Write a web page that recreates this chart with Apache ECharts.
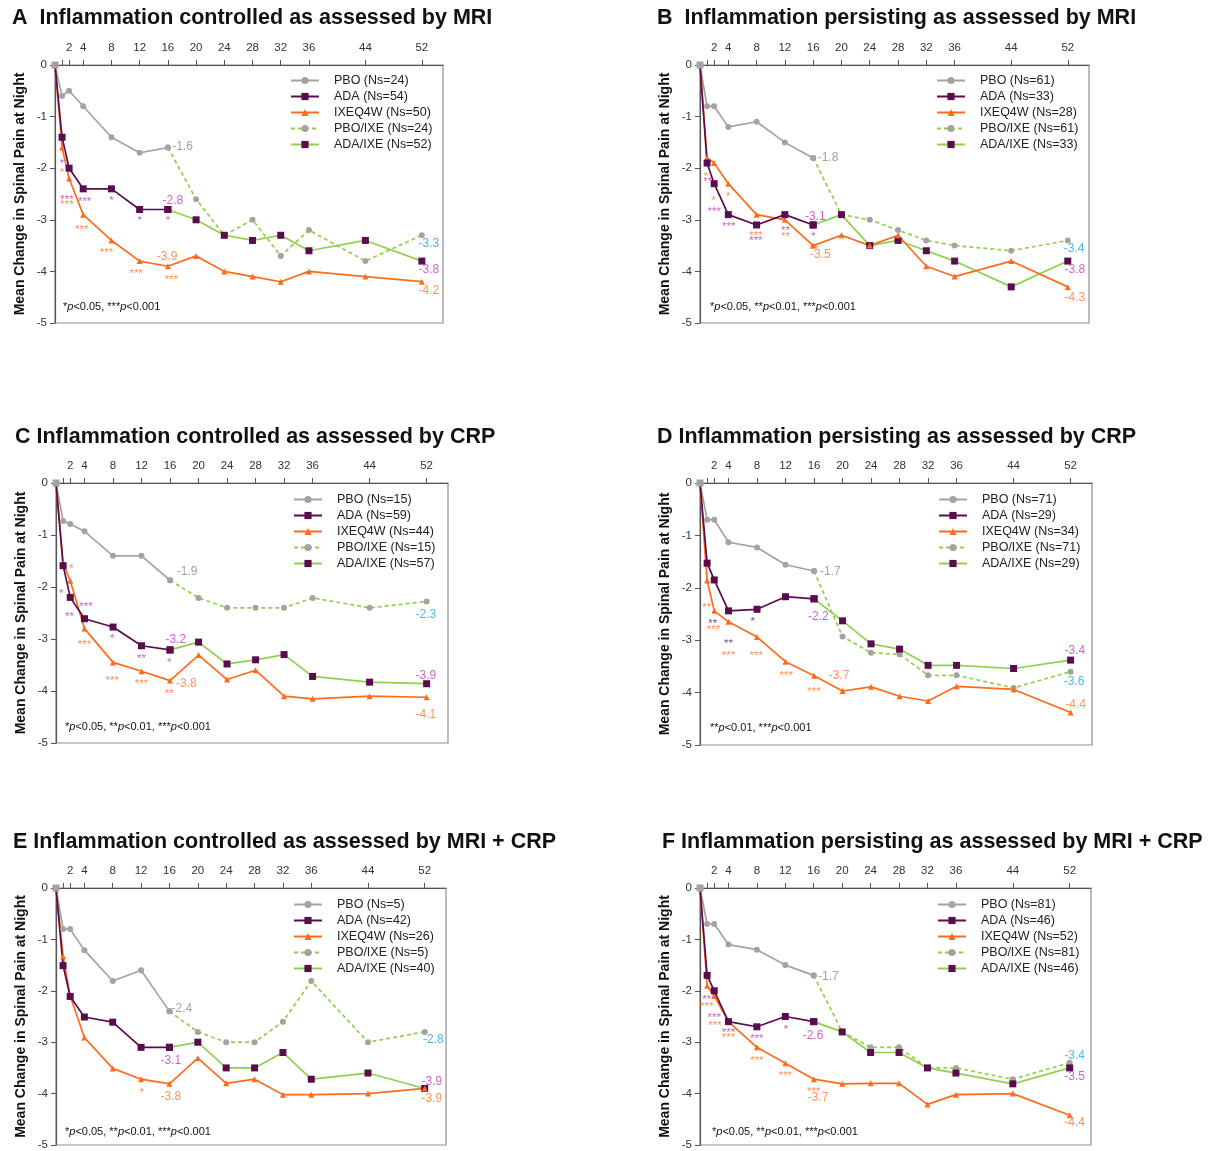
<!DOCTYPE html>
<html>
<head>
<meta charset="utf-8">
<script src="https://cdn.jsdelivr.net/npm/echarts@6/dist/echarts.min.js"></script>
<style>
  html, body { margin: 0; padding: 0; background: #fff; }
  #chart { width: 1213px; height: 1151px; }
</style>
</head>
<body>
<div id="chart"></div>
<script>
// ---------- shared axes ----------
const WEEKS_DB = [0, 1, 2, 4, 8, 12, 16];
const WEEKS_ALL = [0, 1, 2, 4, 8, 12, 16, 20, 24, 28, 32, 36, 44, 52];
const WEEKS_EXT = [16, 20, 24, 28, 32, 36, 44, 52];
const X_TICKS = [1, 2, 4, 8, 12, 16, 20, 24, 28, 32, 36, 44, 52];
const X_LABELS = [2, 4, 8, 12, 16, 20, 24, 28, 32, 36, 44, 52];
const Y_NAME = 'Mean Change in Spinal Pain at Night';

// ---------- A ----------
const TITLE_A = 'A  Inflammation controlled as assessed by MRI';
const NS_A = [24, 54, 50, 24, 52];
const A_PBO = [0, -0.6, -0.5, -0.8, -1.4, -1.7, -1.6];
const A_ADA = [0, -1.4, -2.0, -2.4, -2.4, -2.8, -2.8];
const A_IXE = [0, -1.6, -2.2, -2.9, -3.4, -3.8, -3.9, -3.7, -4.0, -4.1, -4.2, -4.0, -4.1, -4.2];
const A_PBO_IXE = [-1.6, -2.6, -3.3, -3.0, -3.7, -3.2, -3.8, -3.3];
const A_ADA_IXE = [-2.8, -3.0, -3.3, -3.4, -3.3, -3.6, -3.4, -3.8];
const A_LABELS = [[18.1, -1.58, '-1.6', 'pbo'], [16.7, -2.63, '-2.8', 'ada'], [15.9, -3.72, '-3.9', 'ixe'],
  [53.0, -3.47, '-3.3', 'pboIxe'], [53.0, -3.96, '-3.8', 'adaIxe'], [53.0, -4.38, '-4.2', 'ixe']];
const A_STARS = [[1, -1.86, '*', 'ada'], [1.7, -2.55, '***', 'ada'], [4.2, -2.6, '***', 'ada'], [8, -2.58, '*', 'ada'],
  [12, -2.97, '*', 'ada'], [16, -2.97, '*', 'ada'],
  [1, -2.04, '*', 'ixe'], [1.7, -2.66, '***', 'ixe'], [3.8, -3.13, '***', 'ixe'], [7.3, -3.58, '***', 'ixe'],
  [11.5, -3.98, '***', 'ixe'], [16.5, -4.1, '***', 'ixe']];
const NOTE_A = '*{i|p}<0.05, ***{i|p}<0.001';

// ---------- B ----------
const TITLE_B = 'B  Inflammation persisting as assessed by MRI';
const NS_B = [61, 33, 28, 61, 33];
const B_PBO = [0, -0.8, -0.8, -1.2, -1.1, -1.5, -1.8];
const B_ADA = [0, -1.9, -2.3, -2.9, -3.1, -2.9, -3.1];
const B_IXE = [0, -1.8, -1.9, -2.3, -2.9, -3.0, -3.5, -3.3, -3.5, -3.3, -3.9, -4.1, -3.8, -4.3];
const B_PBO_IXE = [-1.8, -2.9, -3.0, -3.2, -3.4, -3.5, -3.6, -3.4];
const B_ADA_IXE = [-3.1, -2.9, -3.5, -3.4, -3.6, -3.8, -4.3, -3.8];
const B_LABELS = [[18.1, -1.8, '-1.8', 'pbo'], [16.3, -2.93, '-3.1', 'ada'], [17, -3.68, '-3.5', 'ixe'],
  [52.9, -3.56, '-3.4', 'pboIxe'], [53.0, -3.97, '-3.8', 'adaIxe'], [53.0, -4.5, '-4.3', 'ixe']];
const B_STARS = [[1.1, -2.21, '**', 'ada'], [2, -2.78, '***', 'ada'], [4.05, -3.08, '***', 'ada'], [7.9, -3.35, '***', 'ada'],
  [12.1, -3.16, '**', 'ada'], [16, -3.28, '*', 'ada'],
  [0.85, -2.1, '*', 'ixe'], [1.9, -2.58, '*', 'ixe'], [4, -2.49, '*', 'ixe'], [7.9, -3.25, '***', 'ixe'],
  [12.1, -3.27, '**', 'ixe'], [16.1, -3.53, '**', 'ixe']];
const NOTE_B = '*{i|p}<0.05, **{i|p}<0.01, ***{i|p}<0.001';

// ---------- C ----------
const TITLE_C = 'C Inflammation controlled as assessed by CRP';
const NS_C = [15, 59, 44, 15, 57];
const C_PBO = [0, -0.73, -0.79, -0.93, -1.4, -1.4, -1.87];
const C_ADA = [0, -1.59, -2.2, -2.61, -2.77, -3.13, -3.21];
const C_IXE = [0, -1.55, -1.88, -2.8, -3.45, -3.62, -3.8, -3.31, -3.78, -3.6, -4.1, -4.15, -4.1, -4.12];
const C_PBO_IXE = [-1.87, -2.21, -2.4, -2.4, -2.4, -2.21, -2.4, -2.28];
const C_ADA_IXE = [-3.21, -3.06, -3.48, -3.4, -3.3, -3.72, -3.83, -3.86];
const C_LABELS = [[18.4, -1.71, '-1.9', 'pbo'], [16.8, -3.01, '-3.2', 'ada'], [18.3, -3.85, '-3.8', 'ixe'],
  [51.9, -2.53, '-2.3', 'pboIxe'], [51.9, -3.71, '-3.9', 'adaIxe'], [51.9, -4.46, '-4.1', 'ixe']];
const C_STARS = [[0.74, -2.07, '*', 'ada'], [1.9, -2.51, '**', 'ada'], [4.2, -2.33, '***', 'ada'], [7.9, -2.94, '*', 'ada'],
  [12, -3.32, '**', 'ada'], [15.9, -3.4, '*', 'ada'],
  [2.14, -1.6, '*', 'ixe'], [4, -3.05, '***', 'ixe'], [7.9, -3.75, '***', 'ixe'], [12, -3.81, '***', 'ixe'],
  [15.9, -4.0, '**', 'ixe']];
const NOTE_C = '*{i|p}<0.05, **{i|p}<0.01, ***{i|p}<0.001';

// ---------- D ----------
const TITLE_D = 'D Inflammation persisting as assessed by CRP';
const NS_D = [71, 29, 34, 71, 29];
const D_PBO = [0, -0.7, -0.7, -1.13, -1.23, -1.56, -1.68];
const D_ADA = [0, -1.53, -1.85, -2.44, -2.41, -2.17, -2.21];
const D_IXE = [0, -1.86, -2.44, -2.65, -2.94, -3.41, -3.68, -3.97, -3.89, -4.07, -4.16, -3.88, -3.94, -4.38];
const D_PBO_IXE = [-1.68, -2.93, -3.24, -3.27, -3.67, -3.67, -3.91, -3.6];
const D_ADA_IXE = [-2.21, -2.63, -3.07, -3.17, -3.48, -3.48, -3.54, -3.38];
const D_LABELS = [[18.3, -1.69, '-1.7', 'pbo'], [16.6, -2.55, '-2.2', 'ada'], [19.5, -3.68, '-3.7', 'ixe'],
  [52.6, -3.2, '-3.4', 'adaIxe'], [52.5, -3.79, '-3.6', 'pboIxe'], [52.7, -4.24, '-4.4', 'ixe']];
const D_STARS = [[1.8, -2.63, '**', 'ada'], [4, -3.01, '**', 'ada'], [7.4, -2.6, '*', 'ada'],
  [0.94, -2.33, '**', 'ixe'], [1.9, -2.75, '***', 'ixe'], [4, -3.24, '***', 'ixe'], [7.9, -3.24, '***', 'ixe'],
  [12.1, -3.62, '***', 'ixe'], [16, -3.93, '***', 'ixe']];
const NOTE_D = '**{i|p}<0.01, ***{i|p}<0.001';

// ---------- E ----------
const TITLE_E = 'E Inflammation controlled as assessed by MRI + CRP';
const NS_E = [5, 42, 26, 5, 40];
const E_PBO = [0, -0.8, -0.8, -1.21, -1.81, -1.6, -2.4];
const E_ADA = [0, -1.51, -2.11, -2.51, -2.61, -3.1, -3.1];
const E_IXE = [0, -1.33, -2.1, -2.91, -3.51, -3.72, -3.81, -3.31, -3.8, -3.72, -4.02, -4.02, -4.0, -3.9];
const E_PBO_IXE = [-2.4, -2.8, -3.0, -3.0, -2.6, -1.81, -3.0, -2.8];
const E_ADA_IXE = [-3.1, -3.0, -3.5, -3.5, -3.2, -3.72, -3.6, -3.9];
const E_LABELS = [[17.75, -2.35, '-2.4', 'pbo'], [16.2, -3.36, '-3.1', 'ada'], [16.2, -4.06, '-3.8', 'ixe'],
  [53.2, -2.95, '-2.8', 'pboIxe'], [53.0, -3.76, '-3.9', 'adaIxe'], [53.0, -4.1, '-3.9', 'ixe']];
const E_STARS = [[12.1, -3.92, '*', 'ixe']];
const NOTE_E = '*{i|p}<0.05, **{i|p}<0.01, ***{i|p}<0.001';

// ---------- F ----------
const TITLE_F = 'F Inflammation persisting as assessed by MRI + CRP';
const NS_F = [81, 46, 52, 81, 46];
const F_PBO = [0, -0.7, -0.7, -1.1, -1.2, -1.5, -1.7];
const F_ADA = [0, -1.7, -2.0, -2.6, -2.7, -2.5, -2.6];
const F_IXE = [0, -1.9, -2.1, -2.6, -3.1, -3.41, -3.72, -3.81, -3.8, -3.8, -4.21, -4.02, -4.0, -4.42];
const F_PBO_IXE = [-1.7, -2.8, -3.1, -3.1, -3.5, -3.5, -3.72, -3.4];
const F_ADA_IXE = [-2.6, -2.8, -3.2, -3.2, -3.5, -3.6, -3.81, -3.5];
const F_LABELS = [[18.05, -1.72, '-1.7', 'pbo'], [15.9, -2.87, '-2.6', 'ada'], [16.6, -4.07, '-3.7', 'ixe'],
  [52.7, -3.26, '-3.4', 'pboIxe'], [52.7, -3.68, '-3.5', 'adaIxe'], [52.7, -4.56, '-4.4', 'ixe']];
const F_STARS = [[0.94, -2.12, '**', 'ada'], [2, -2.46, '***', 'ada'], [4, -2.76, '***', 'ada'], [8, -2.88, '***', 'ada'],
  [12.1, -2.7, '*', 'ada'],
  [0.94, -2.26, '***', 'ixe'], [2.1, -2.62, '***', 'ixe'], [4, -2.86, '***', 'ixe'], [8, -3.31, '***', 'ixe'],
  [12, -3.6, '***', 'ixe'], [16, -3.9, '***', 'ixe']];
const NOTE_F = '*{i|p}<0.05, **{i|p}<0.01, ***{i|p}<0.001';

// ---------- styles ----------
const COL_GRAY = '#a7a29e';
const COL_ADA = '#5a0c4f';
const COL_IXE = '#ff6b1c';
const COL_GREEN = '#8fd04c';
const LABEL_COLOR = { pbo: '#8e8a87', ada: '#c53ab6', ixe: '#ff772b', pboIxe: '#1fa6e0', adaIxe: '#c53ab6' };
const FONT = '"Liberation Sans", Arial, Helvetica, sans-serif';

const PANELS = [
  { title: TITLE_A, ns: NS_A, pbo: A_PBO, ada: A_ADA, ixe: A_IXE, pboIxe: A_PBO_IXE, adaIxe: A_ADA_IXE, labels: A_LABELS, stars: A_STARS, note: NOTE_A },
  { title: TITLE_B, ns: NS_B, pbo: B_PBO, ada: B_ADA, ixe: B_IXE, pboIxe: B_PBO_IXE, adaIxe: B_ADA_IXE, labels: B_LABELS, stars: B_STARS, note: NOTE_B },
  { title: TITLE_C, ns: NS_C, pbo: C_PBO, ada: C_ADA, ixe: C_IXE, pboIxe: C_PBO_IXE, adaIxe: C_ADA_IXE, labels: C_LABELS, stars: C_STARS, note: NOTE_C },
  { title: TITLE_D, ns: NS_D, pbo: D_PBO, ada: D_ADA, ixe: D_IXE, pboIxe: D_PBO_IXE, adaIxe: D_ADA_IXE, labels: D_LABELS, stars: D_STARS, note: NOTE_D },
  { title: TITLE_E, ns: NS_E, pbo: E_PBO, ada: E_ADA, ixe: E_IXE, pboIxe: E_PBO_IXE, adaIxe: E_ADA_IXE, labels: E_LABELS, stars: E_STARS, note: NOTE_E },
  { title: TITLE_F, ns: NS_F, pbo: F_PBO, ada: F_ADA, ixe: F_IXE, pboIxe: F_PBO_IXE, adaIxe: F_ADA_IXE, labels: F_LABELS, stars: F_STARS, note: NOTE_F },
];

// pixel layout of each panel
const LAYOUT = [
  { grid: { left: 55, top: 65, width: 388, height: 258 }, tx: 12, ty: 7, lx: 290, ly: 74, nx: 63, ny: 301, adaStar: '#c040b0' },
  { grid: { left: 700, top: 65, width: 389, height: 258 }, tx: 657, ty: 7, lx: 936, ly: 74, nx: 710, ny: 301, adaStar: '#c040b0' },
  { grid: { left: 56, top: 483, width: 392, height: 260 }, tx: 15, ty: 426, lx: 293, ly: 493, nx: 65, ny: 721, adaStar: '#c040b0' },
  { grid: { left: 700, top: 483, width: 392, height: 262 }, tx: 657, ty: 426, lx: 938, ly: 493, nx: 710, ny: 722, adaStar: '#4d2a62' },
  { grid: { left: 56, top: 888, width: 390, height: 260 }, tx: 13, ty: 831, lx: 293, ly: 898, nx: 65, ny: 1126, adaStar: '#c040b0' },
  { grid: { left: 700, top: 888, width: 391, height: 260 }, tx: 662, ty: 831, lx: 937, ly: 898, nx: 712, ny: 1126, adaStar: '#c040b0' },
];

function pts(weeks, vals) { return weeks.map((w, i) => [w, vals[i]]); }

function lineSeries(i, name, data, color, lineColor, symbol, size, dashed) {
  return {
    type: 'line', name, xAxisIndex: i, yAxisIndex: i, data,
    symbol, symbolSize: size, showSymbol: true, animation: false,
    lineStyle: { color: lineColor, width: 1.7, type: dashed ? [4, 3] : 'solid' },
    itemStyle: { color },
    emphasis: { disabled: true },
  };
}

const option = {
  animation: false,
  backgroundColor: '#fff',
  textStyle: { fontFamily: FONT },
  title: [], grid: [], xAxis: [], yAxis: [], legend: [], series: [], graphic: [],
};

PANELS.forEach((p, i) => {
  const L = LAYOUT[i];
  const names = [`PBO (Ns=${p.ns[0]})`, `ADA (Ns=${p.ns[1]})`, `IXEQ4W (Ns=${p.ns[2]})`,
    `PBO/IXE (Ns=${p.ns[3]})`, `ADA/IXE (Ns=${p.ns[4]})`];

  option.title.push({
    text: p.title, left: L.tx, top: L.ty, padding: 0,
    textStyle: { fontSize: 21.5, fontWeight: 'bold', color: '#111', fontFamily: FONT },
  });
  option.grid.push(Object.assign({ show: true, borderColor: '#8f8f8f', borderWidth: 1.2, containLabel: false }, L.grid));
  option.xAxis.push({
    gridIndex: i, type: 'value', position: 'top', min: 0, max: 55,
    axisLine: { show: true, onZero: false, lineStyle: { color: '#555', width: 1.2 } },
    axisTick: { show: true, length: 5, customValues: X_TICKS, lineStyle: { color: '#555' } },
    axisLabel: { customValues: X_LABELS, margin: 11, fontSize: 11.5, color: '#333' },
    splitLine: { show: false },
  });
  option.yAxis.push({
    gridIndex: i, type: 'value', min: -5, max: 0, interval: 1,
    axisLine: { show: true, onZero: false, lineStyle: { color: '#555', width: 1.2 } },
    axisTick: { show: true, length: 5, lineStyle: { color: '#555' } },
    axisLabel: { margin: 8, fontSize: 11.5, color: '#333' },
    splitLine: { show: false },
    name: Y_NAME, nameLocation: 'middle', nameRotate: 90, nameGap: 28,
    nameTextStyle: { fontSize: 14, fontWeight: 'bold', color: '#111' },
  });
  option.legend.push({
    orient: 'vertical', left: L.lx, top: L.ly, padding: 0, itemWidth: 28, itemHeight: 9, itemGap: 3,
    selectedMode: false, data: names,
    textStyle: { fontSize: 12.5, color: '#222', padding: [0, 0, 0, 10] },
  });

  const adaPts = pts(WEEKS_DB, p.ada).map((d, k) => k === 0 ? { value: d, itemStyle: { color: COL_GRAY } } : d);
  option.series.push(
    lineSeries(i, names[0], pts(WEEKS_DB, p.pbo), COL_GRAY, COL_GRAY, 'circle', 6, false),
    lineSeries(i, names[3], pts(WEEKS_EXT, p.pboIxe), COL_GRAY, COL_GREEN, 'circle', 6, true),
    lineSeries(i, names[4], pts(WEEKS_EXT, p.adaIxe), COL_ADA, COL_GREEN, 'rect', 7, false),
    lineSeries(i, names[2], pts(WEEKS_ALL, p.ixe), COL_IXE, COL_IXE, 'triangle', 6, false),
    lineSeries(i, names[1], adaPts, COL_ADA, COL_ADA, 'rect', 7, false),
  );

  // value labels at week 16 / 52
  option.series.push({
    type: 'scatter', xAxisIndex: i, yAxisIndex: i, symbolSize: 1, silent: true, z: 5,
    itemStyle: { color: 'transparent' },
    label: { show: true, position: 'inside', fontSize: 12 },
    data: p.labels.map(([w, v, t, k]) => ({ value: [w, v], label: { formatter: t, color: LABEL_COLOR[k] } })),
  });
  // significance stars
  option.series.push({
    type: 'scatter', xAxisIndex: i, yAxisIndex: i, symbolSize: 1, silent: true, z: 5,
    itemStyle: { color: 'transparent' },
    label: { show: true, position: 'inside', fontSize: 11.5, offset: [0, 3] },
    data: p.stars.map(([w, v, t, k]) => ({
      value: [w, v], label: { formatter: t, color: k === 'ada' ? L.adaStar : LABEL_COLOR.ixe },
    })),
  });

  option.graphic.push({
    type: 'text', left: L.nx, top: L.ny, silent: true,
    style: {
      text: p.note, fontSize: 11, fill: '#111', fontFamily: FONT,
      rich: { i: { fontStyle: 'italic', fontSize: 11, fill: '#111', fontFamily: FONT } },
    },
  });
});

const chart = echarts.init(document.getElementById('chart'), null, { renderer: 'canvas' });
chart.setOption(option);
</script>
</body>
</html>
